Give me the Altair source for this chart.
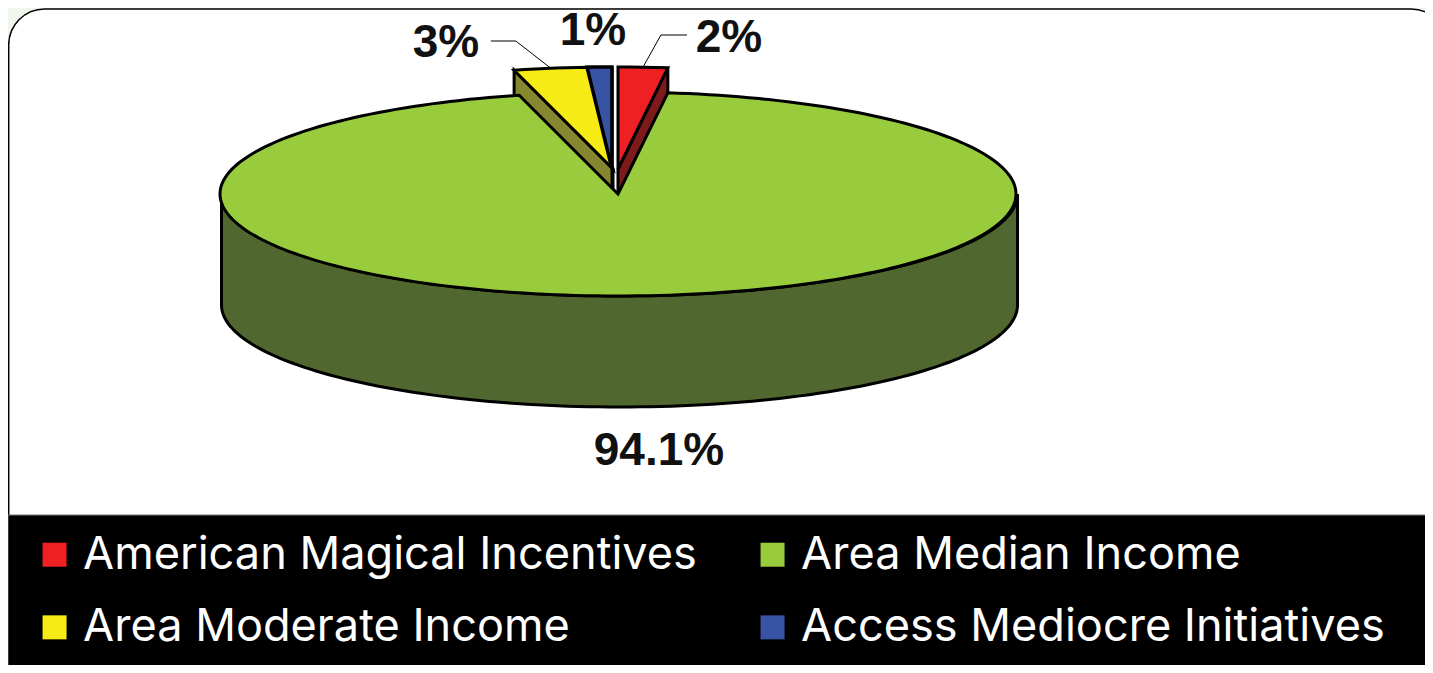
import math
import altair as alt
import pandas as pd

names = ["American Magical Incentives", "Area Median Income", "Area Moderate Income", "Access Mediocre Initiatives"]
shares = [2, 94.1, 3, 1]
share_labels = ["2%", "94.1%", "3%", "1%"]
top_colors = ["#EE2024", "#99CC3C", "#F6EB14", "#3953A4"]
side_colors = ["#7F1A1C", "#50682F", "#86862F", "#1F2D5C"]

# pie geometry (page pixels)
CX, CY, RX, RY, DEPTH = 619.5, 194, 398, 102, 111
APEX_X = 618
LIFT = 25
LEFT_SHIFT = 6
total = sum(shares)

def span(i):
    a = sum(shares[:i]) / total * 360
    return a, a + shares[i] / total * 360

def rim(t, ox, oy):
    r = math.radians(t)
    return ox + RX * math.sin(r), oy - RY * math.cos(r)

def wedge(i, ox, oy):
    a, b = span(i)
    n = max(4, int((b - a) / 1.5))
    pts = [(ox, oy)]
    pts += [rim(a + (b - a) * k / n, ox, oy) for k in range(n + 1)]
    return pts

def table(name, pts):
    return pd.DataFrame({"name": name, "i": range(len(pts)), "x": [p[0] for p in pts], "y": [p[1] for p in pts]})

X = lambda f="x": alt.X(f"{f}:Q", scale=alt.Scale(domain=[8, 1425], nice=False, zero=False), axis=None)
Y = lambda f="y": alt.Y(f"{f}:Q", scale=alt.Scale(domain=[665, 8], nice=False, zero=False), axis=None)

def poly(pts, fill, sw=3):
    return alt.Chart(table("p", pts)).mark_line(
        fill=fill, stroke="black", strokeWidth=sw, interpolate="linear-closed", strokeJoin="miter"
    ).encode(x=X(), y=Y(), order="i:Q")

def box(x, x2, y, y2, **kw):
    return alt.Chart(pd.DataFrame({"x": [x], "x2": [x2], "y": [y], "y2": [y2]})).mark_rect(**kw).encode(
        x=X(), x2="x2:Q", y=Y(), y2="y2:Q")

origins = {0: (APEX_X, CY - LIFT), 2: (APEX_X - LEFT_SHIFT + 1, CY - LIFT), 3: (APEX_X - LEFT_SHIFT, CY - LIFT)}

layers = [
    box(8.7, 1447, 9, 690, fill="white", stroke="black", strokeWidth=1.5, cornerRadius=36),
    box(8, 1440, 515, 680, fill="black", stroke="#777777", strokeWidth=1),
]

# front wall of the big slice
front = [rim(90 + 180 * k / 120, CX, CY) for k in range(121)]
back = [(x, y + DEPTH) for x, y in reversed(front)]
layers.append(poly(front + back, side_colors[1]))

# walls of the pulled-out slices
for i, (ox, oy) in origins.items():
    a, b = span(i)
    t = a if i == 2 else b
    rx, ry = rim(t, ox, oy)
    layers.append(poly([(ox, oy), (rx, ry), (rx, ry + DEPTH), (ox, oy + DEPTH)], side_colors[i]))

# big slice top
layers.append(poly(wedge(1, APEX_X, CY), top_colors[1]))

# pulled-out slice tops
for i, (ox, oy) in origins.items():
    layers.append(poly(wedge(i, ox, oy), top_colors[i], 3.5 if i == 3 else 3))

# leader lines
for i, sign, elbow_dx, elbow_y, run in [(0, 1, 18, 35, 26), (2, -1, 35, 41, 25)]:
    a, b = span(i)
    sx, sy = rim((a + b) / 2, *origins[i])
    pts = [(sx, sy), (sx + sign * elbow_dx, elbow_y), (sx + sign * (elbow_dx + run), elbow_y)]
    layers.append(alt.Chart(table("l", pts)).mark_line(stroke="black", strokeWidth=1).encode(x=X(), y=Y(), order="i:Q"))

# value labels
lab = pd.DataFrame({"t": share_labels, "x": [729, 659, 446, 593], "y": [38, 451, 43, 31]})
layers.append(alt.Chart(lab).mark_text(font="Liberation Sans", fontWeight="bold", fontSize=46, color="#111111",
                                       align="center", baseline="middle").encode(x=X(), y=Y(), text="t:N"))

# legend carrier (hidden under the band)
leg = pd.DataFrame({"name": names, "x": [700] * 4, "y": [590] * 4})
carrier = alt.Chart(leg).mark_square(size=1, opacity=0).encode(
    x=X(), y=Y(),
    fill=alt.Fill("name:N", scale=alt.Scale(domain=names, range=top_colors), legend=alt.Legend(
        title=None, orient="none", legendX=24, legendY=524, columns=2, direction="horizontal", padding=0,
        symbolType="square", symbolSize=576,
        symbolOpacity=1, symbolStrokeWidth=0, labelColor="white", labelFont="Inter", labelFontSize=45.1,
        labelLimit=800, labelOffset=6, columnPadding=53, rowPadding=26.8, symbolOffset=0)),
)
layers.append(carrier)

chart = alt.layer(*layers).resolve_scale(x="shared", y="shared").properties(
    width=1417, height=657, padding=0, background="#F1F6EC",
    autosize=alt.AutoSizeParams(type="none"),
).configure_view(stroke=None)

chart.save("out.html", embed_options={"renderer": "svg", "actions": False})
